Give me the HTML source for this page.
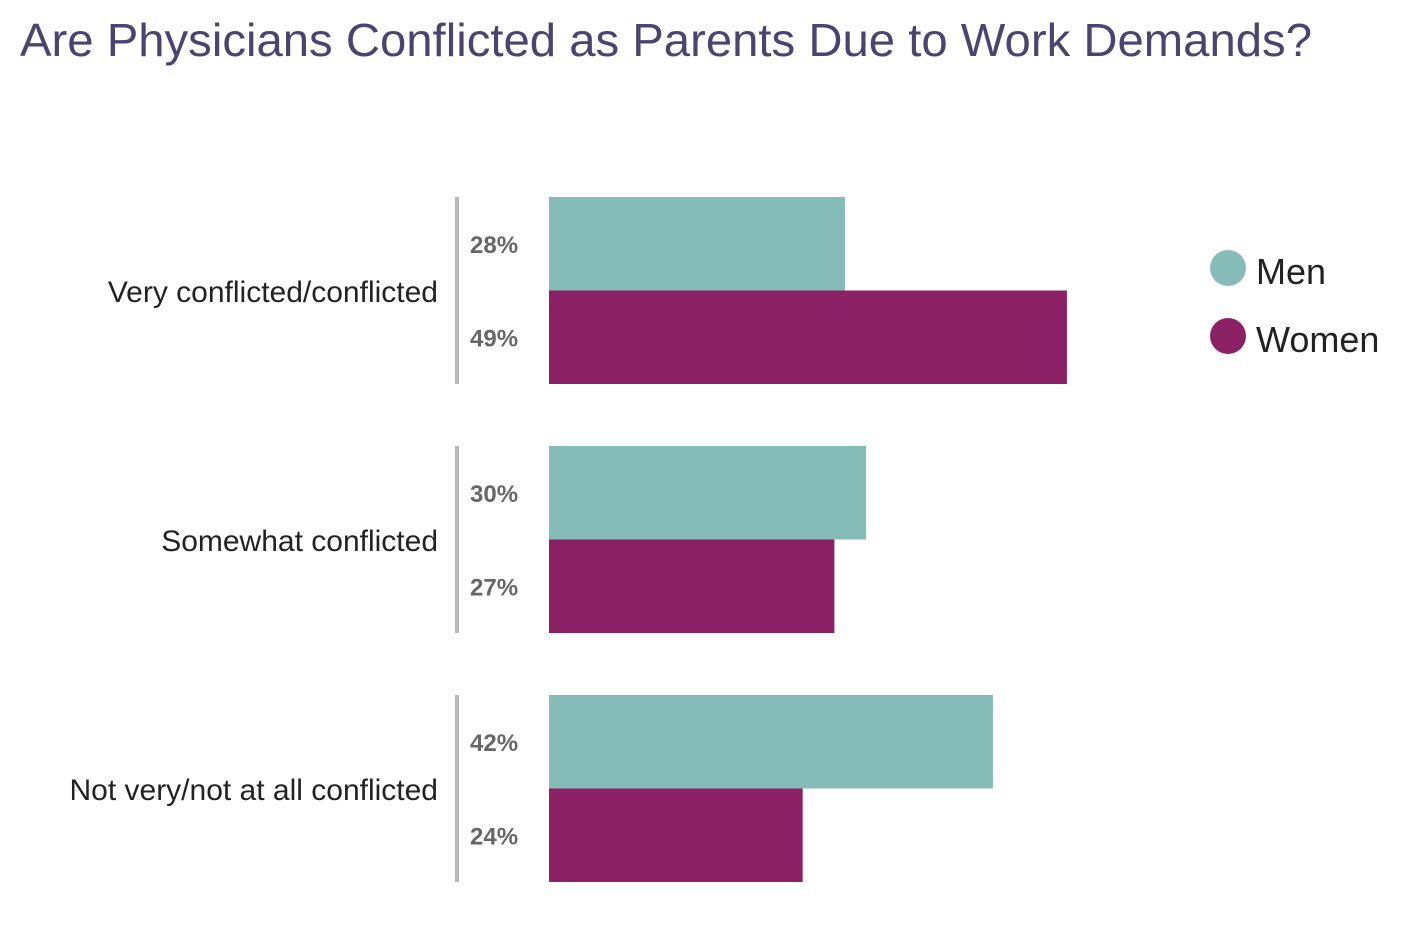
<!DOCTYPE html>
<html><head><meta charset="utf-8"><style>
html,body{margin:0;padding:0;background:#fff;}
svg{display:block;font-family:"Liberation Sans",sans-serif;}
</style></head><body>
<svg id="chart" width="1412" height="944" viewBox="0 0 1412 944" xmlns="http://www.w3.org/2000/svg">
<text x="20" y="56" font-size="46" fill="#4b4470" textLength="1292" lengthAdjust="spacingAndGlyphs">Are Physicians Conflicted as Parents Due to Work Demands?</text>
<g>
<circle cx="1228" cy="268" r="18" fill="#86bcb7"/>
<text x="1256" y="284" font-size="36" fill="#222">Men</text>
<circle cx="1228" cy="336" r="18" fill="#8b2065"/>
<text x="1256" y="352" font-size="36" fill="#222">Women</text>
</g>
<g id="plot"></g>
</svg>
<script>
const categories = ["Very conflicted/conflicted","Somewhat conflicted","Not very/not at all conflicted"];
const menValues = [28,30,42];
const womenValues = [49,27,24];
const ns="http://www.w3.org/2000/svg";
const plot=document.getElementById('plot');
const x0=549, pxPer=10.57;
function xScale(v){return x0+v*pxPer;}
function groupTop(i){return 197+i*249;}
const barH=93.5;
function mk(tag,attrs){const e=document.createElementNS(ns,tag);for(const k in attrs)e.setAttribute(k,attrs[k]);return e;}
categories.forEach((c,i)=>{
  const top=groupTop(i);
  const lab=mk('text',{x:438,y:top+105,'font-size':30,fill:'#222','text-anchor':'end'});
  
  
  lab.textContent=c;plot.appendChild(lab);
  const ln=mk('rect',{x:455,y:top,width:4,height:187,fill:'#b8b8b8'});
  
  
  plot.appendChild(ln);
  [[menValues[i],'#86bcb7','bar-men'],[womenValues[i],'#8b2065','bar-women']].forEach((s,j)=>{
    const y=top+j*barH;
    const r=mk('rect',{x:x0,y:y,width:xScale(s[0])-x0,height:barH,fill:s[1]});
    
    
    plot.appendChild(r);
    const t=mk('text',{x:470,y:y+56,'font-size':24,'font-weight':'bold',fill:'#666'});
    
    
    t.textContent=s[0]+'%';plot.appendChild(t);
  });
});
</script>
</body></html>
